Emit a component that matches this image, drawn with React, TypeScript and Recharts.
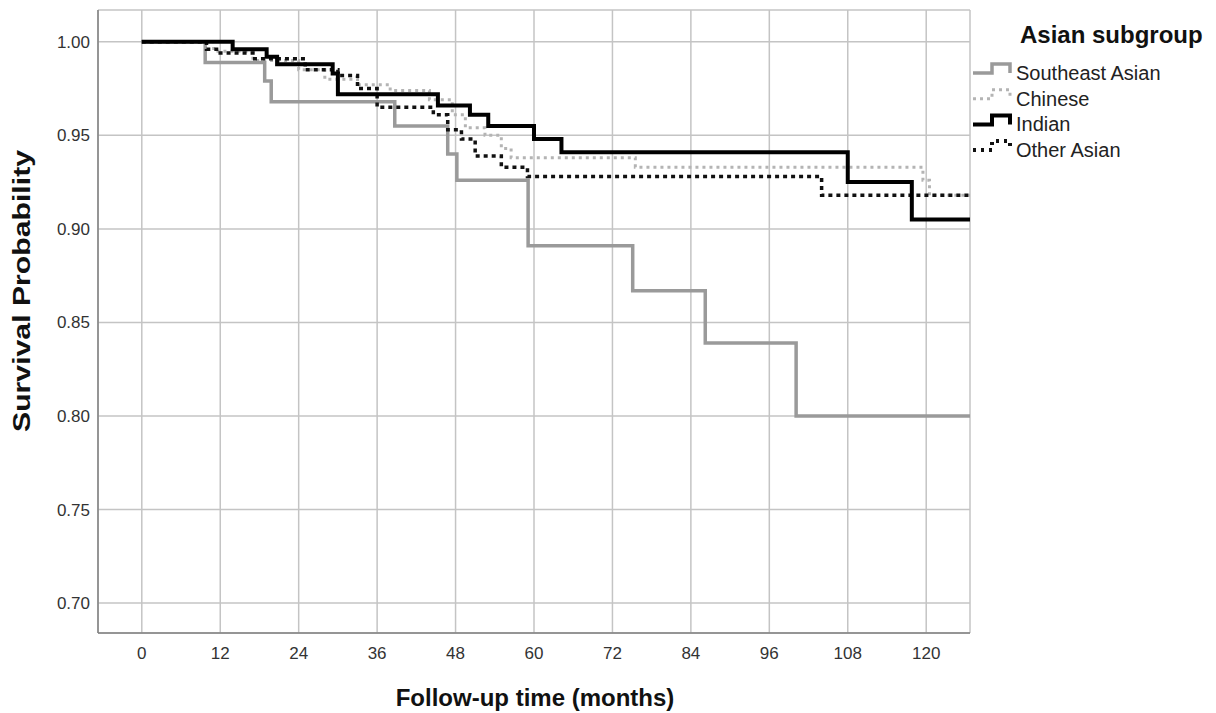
import React from "react";
import { LineChart, Line, XAxis, YAxis, CartesianGrid } from "recharts";

const xTicks = [0, 12, 24, 36, 48, 60, 72, 84, 96, 108, 120];
const yTicks = [0.7, 0.75, 0.8, 0.85, 0.9, 0.95, 1.0];

const seTimes = [0, 9.7, 18.8, 19.8, 38.7, 46.8, 48.2, 59.1, 75.1, 86.2, 100.1, 126.7];
const seSurv = [1.0, 0.989, 0.979, 0.968, 0.955, 0.94, 0.926, 0.891, 0.867, 0.839, 0.8, 0.8];

const cnTimes = [0, 11, 17, 24, 28, 33, 38, 44, 47.5, 49.5, 52.5, 55, 56.5, 75.5, 119.5, 120.5, 126.7];
const cnSurv = [1.0, 0.995, 0.99, 0.985, 0.98, 0.977, 0.974, 0.969, 0.961, 0.954, 0.95, 0.943, 0.938, 0.933, 0.926, 0.918, 0.918];

const inTimes = [0, 13.9, 19.1, 20.7, 29.2, 30, 45.3, 50.2, 53, 60, 64.2, 108, 117.8, 126.7];
const inSurv = [1.0, 0.996, 0.992, 0.988, 0.983, 0.972, 0.966, 0.961, 0.955, 0.948, 0.941, 0.925, 0.905, 0.905];

const oaTimes = [0, 9.9, 12, 17, 25, 30, 33, 36, 44.6, 46.8, 48.9, 51, 55, 59, 104, 126.7];
const oaSurv = [1.0, 0.996, 0.994, 0.991, 0.985, 0.982, 0.975, 0.965, 0.961, 0.953, 0.948, 0.939, 0.933, 0.928, 0.918, 0.918];

const legendLabels = ["Southeast Asian", "Chinese", "Indian", "Other Asian"];

const toData = (ts: number[], ss: number[]) => ts.map((t, i) => ({ t, s: ss[i] }));

const seData = toData(seTimes, seSurv);
const cnData = toData(cnTimes, cnSurv);
const inData = toData(inTimes, inSurv);
const oaData = toData(oaTimes, oaSurv);

const FONT = "Arial, 'Liberation Sans', Helvetica, sans-serif";

const legendStyles = [
  { stroke: "#9a9a9a", dash: undefined as string | undefined, w: 3.5 },
  { stroke: "#b4b4b4", dash: "3 4", w: 3 },
  { stroke: "#000000", dash: undefined, w: 4 },
  { stroke: "#111111", dash: "3 5", w: 4 },
];

export default function App() {
  return (
    <div style={{ position: "absolute", left: 0, top: 0, width: 1216, height: 713, background: "#fff" }}>
      <LineChart
        width={1216}
        height={713}
        margin={{ top: 10, right: 246, left: 38, bottom: 50 }}
        style={{ fontFamily: FONT }}
      >
        <CartesianGrid stroke="#c4c4c4" strokeWidth={1.5} />
        <XAxis
          type="number"
          dataKey="t"
          domain={[-6.7, 126.7]}
          ticks={xTicks}
          allowDataOverflow
          height={30}
          tickLine={false}
          tickMargin={8}
          axisLine={{ stroke: "#808080", strokeWidth: 1.5 }}
          tick={{ fontSize: 17, fill: "#333", fontFamily: FONT }}
        />
        <YAxis
          type="number"
          dataKey="s"
          domain={[0.684, 1.017]}
          ticks={yTicks}
          allowDataOverflow
          width={60}
          tickLine={false}
          tickFormatter={(v: number) => v.toFixed(2)}
          axisLine={{ stroke: "#808080", strokeWidth: 1.5 }}
          tick={{ fontSize: 17, fill: "#333", fontFamily: FONT }}
        />
        <Line data={cnData} dataKey="s" type="stepAfter" stroke="#b4b4b4" strokeWidth={3} strokeDasharray="3 4" dot={false} isAnimationActive={false} />
        <Line data={seData} dataKey="s" type="stepAfter" stroke="#9a9a9a" strokeWidth={3.5} dot={false} isAnimationActive={false} />
        <Line data={oaData} dataKey="s" type="stepAfter" stroke="#111" strokeWidth={3.5} strokeDasharray="4 4" dot={false} isAnimationActive={false} />
        <Line data={inData} dataKey="s" type="stepAfter" stroke="#000" strokeWidth={4} dot={false} isAnimationActive={false} />
      </LineChart>
      <svg width={1216} height={713} style={{ position: "absolute", left: 0, top: 0, pointerEvents: "none" }}>
        <text x={1020} y={43} fontFamily={FONT} fontWeight="bold" fontSize={24} fill="#111">Asian subgroup</text>
        {legendLabels.map((lab, i) => {
          const yb = 80 + i * 25.7;
          const st = legendStyles[i];
          const low = yb - 7;
          const high = yb - 16;
          return (
            <g key={lab}>
              <polyline
                points={`973,${low} 992,${low} 992,${high} 1010,${high} 1010,${low}`}
                fill="none"
                stroke={st.stroke}
                strokeWidth={st.w}
                strokeDasharray={st.dash}
              />
              <text x={1016} y={yb} fontFamily={FONT} fontSize={20} fill="#222">{lab}</text>
            </g>
          );
        })}
        <text x={535} y={706} textAnchor="middle" fontFamily={FONT} fontWeight="bold" fontSize={24} fill="#111">Follow-up time (months)</text>
        <text x={30} y={291} textAnchor="middle" transform="rotate(-90 30 291)" fontFamily={FONT} fontWeight="bold" fontSize={24} textLength={282} lengthAdjust="spacingAndGlyphs" fill="#111">Survival Probability</text>
      </svg>
    </div>
  );
}
